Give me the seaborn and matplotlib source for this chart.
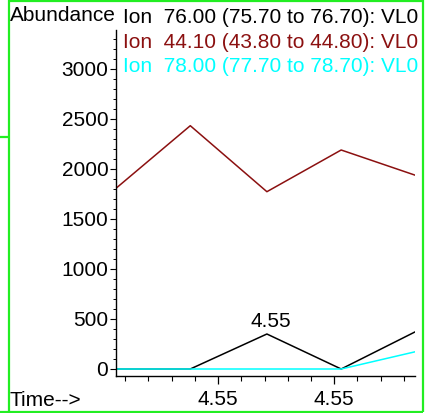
import matplotlib
matplotlib.use("Agg")
import matplotlib.pyplot as plt
from matplotlib.lines import Line2D
from matplotlib.ticker import MultipleLocator, FixedLocator, FixedFormatter
import numpy as np
import pandas as pd
import seaborn as sns

# Scan retention times (min)
scan_times = [4.5456, 4.5488, 4.5521, 4.5553, 4.5585]

# Extracted ion abundances per scan
ion_labels = [
    "Ion  76.00 (75.70 to 76.70): VL0",
    "Ion  44.10 (43.80 to 44.80): VL0",
    "Ion  78.00 (77.70 to 78.70): VL0",
]
ion_76 = [0, 0, 350, 0, 373]
ion_44 = [1807, 2433, 1773, 2190, 1937]
ion_78 = [0, 0, 0, 0, 173]
ion_colors = ["#000000", "#8B1010", "#00FFFF"]

y_ticks = [0, 500, 1000, 1500, 2000, 2500, 3000]
x_ticks = [4.550, 4.555]
x_tick_labels = ["4.55", "4.55"]

W, H = 425, 413
sns.set_theme(style="white")
plt.rcParams["font.family"] = ["Liberation Sans", "DejaVu Sans"]
FS = 15

df = pd.DataFrame({
    "time": scan_times * 3,
    "abundance": ion_76 + ion_44 + ion_78,
    "ion": [ion_labels[0]] * 5 + [ion_labels[1]] * 5 + [ion_labels[2]] * 5,
})

fig = plt.figure(figsize=(W / 100, H / 100), dpi=100)
fig.patch.set_facecolor("white")


def fx(px):
    return px / W


def fy(py):
    return 1 - py / H


ax_l, ax_r, ax_t, ax_b = 116, 415, 30, 376
ax = fig.add_axes([fx(ax_l), fy(ax_b), (ax_r - ax_l) / W, (ax_b - ax_t) / H])
ax.set_facecolor("white")

sns.lineplot(data=df, x="time", y="abundance", hue="ion", hue_order=ion_labels,
             palette=ion_colors, legend=False, linewidth=1.1, ax=ax,
             estimator=None, sort=False)

ax.set_xlim(scan_times[0], 4.55848)
ax.set_ylim(-70, 3390)
for side in ("top", "right"):
    ax.spines[side].set_visible(False)
for side in ("left", "bottom"):
    ax.spines[side].set_color("black")
    ax.spines[side].set_linewidth(1.0)

ax.yaxis.set_major_locator(FixedLocator(y_ticks))
ax.yaxis.set_minor_locator(MultipleLocator(100))
ax.xaxis.set_major_locator(FixedLocator(x_ticks))
ax.xaxis.set_major_formatter(FixedFormatter(x_tick_labels))
ax.xaxis.set_minor_locator(MultipleLocator(0.001))
ax.tick_params(axis="y", which="major", direction="out", length=4, width=0.8,
               pad=1.5, labelsize=FS, left=True, colors="black")
ax.tick_params(axis="y", which="minor", direction="out", length=2.2, width=0.7,
               left=True, colors="black")
ax.tick_params(axis="x", which="major", direction="out", length=6, width=0.9,
               pad=4, labelsize=FS, bottom=True, colors="black")
ax.tick_params(axis="x", which="minor", direction="out", length=3.5, width=0.8,
               bottom=True, colors="black")
ax.set_xlabel("")
ax.set_ylabel("")
ax.grid(False)

# Retention time of the apex of the first ion trace (interior local maximum)
peak_i = 1 + int(np.argmax(ion_76[1:-1]))
ax.annotate(f"{scan_times[peak_i]:.2f}", xy=(scan_times[peak_i], ion_76[peak_i]),
            xytext=(3, 5), textcoords="offset points", ha="center", va="baseline",
            fontsize=FS, color="black")

# Header texts
fig.text(fx(10), fy(21), "Abundance", fontsize=FS, color="black", va="baseline", ha="left")
for i, (lab, col) in enumerate(zip(ion_labels, ion_colors)):
    fig.text(fx(123), fy(23 + 24.7 * i), lab, fontsize=FS, color=col,
             va="baseline", ha="left")
fig.text(fx(10), fy(406), "Time-->", fontsize=FS, color="black", va="baseline", ha="left")

# Green frame around the panel
green = "#22EE22"
frame = [
    ((8.5, 8.5), (0, 413)),
    ((8.5, 423), (1, 1)),
    ((423, 423), (0, 412)),
    ((0, 423), (411.8, 411.8)),
    ((0, 8.5), (137, 137)),
]
for xs, ys in frame:
    fig.add_artist(Line2D([fx(x) for x in xs], [fy(y) for y in ys],
                          color=green, linewidth=1.6, solid_capstyle="butt"))

fig.savefig("out.png", dpi=100, facecolor="white")
